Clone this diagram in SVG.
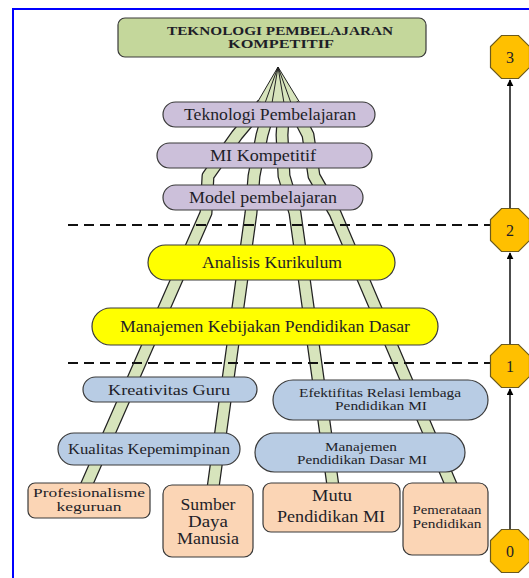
<svg xmlns="http://www.w3.org/2000/svg" width="529" height="578" viewBox="0 0 529 578">
<defs>
<marker id="arr" viewBox="0 0 10 10" refX="9" refY="5" markerWidth="7" markerHeight="7" markerUnits="userSpaceOnUse" orient="auto">
<path d="M0,0 L10,5 L0,10 Z" fill="#000"/>
</marker>
</defs>
<style>
text{font-family:"Liberation Serif","Times New Roman",serif;fill:#1e1e28;text-anchor:middle}
.t16{font-size:16px}
.t15{font-size:15px}
.t13{font-size:13px}
.t12{font-size:12px}
.ttl{font-size:12px;font-weight:bold}
.purple{fill:#ccc0da;stroke:#3a3a3a;stroke-width:1.2}
.yellow{fill:#ffff00;stroke:#3a3a3a;stroke-width:1.2}
.blue{fill:#b8cce4;stroke:#3a3a3a;stroke-width:1.2}
.orange{fill:#fbd5b5;stroke:#3a3a3a;stroke-width:1.2}
.green{fill:#c4d79b;stroke:#3a3a3a;stroke-width:1.2}
.oct{fill:#ffc000;stroke:#6b5a1e;stroke-width:1.2}
.sout{fill:none;stroke:#222;stroke-width:13;stroke-linejoin:round}
.sin{fill:none;stroke:#d7e4bc;stroke-width:10.5;stroke-linejoin:round}
.dash{stroke:#111;stroke-width:2;stroke-dasharray:10,6}
.arrow{stroke:#111;stroke-width:1.5;marker-end:url(#arr)}
</style>
<rect width="529" height="578" fill="#fff"/>
<path d="M13,578 L13,9 L529,9" fill="none" stroke="#0000ff" stroke-width="2"/>

<g id="connectors">
<polygon points="278,67 257,103 300,103" fill="#d7e4bc" stroke="#222" stroke-width="1"/>
<path d="M278,67 L265,103 M278,67 L272,103 M278,67 L284,103 M278,67 L291,103" stroke="#222" stroke-width="1"/>
<path class="sout" d="M263,104 L237,135 L208,176 L206,213 L86,486"/>
<path class="sout" d="M271,104 L262,135 L254,176 L251,213 L213,488"/>
<path class="sout" d="M284,104 L282,135 L284,176 L295,213 L333,486"/>
<path class="sout" d="M292,104 L308,135 L314,176 L335,213 L452,487"/>
<path class="sin" d="M263,104 L237,135 L208,176 L206,213 L86,486"/>
<path class="sin" d="M271,104 L262,135 L254,176 L251,213 L213,488"/>
<path class="sin" d="M284,104 L282,135 L284,176 L295,213 L333,486"/>
<path class="sin" d="M292,104 L308,135 L314,176 L335,213 L452,487"/>
<line class="dash" x1="68" y1="225" x2="491" y2="225"/>
<line class="dash" x1="68" y1="363" x2="491" y2="363"/>
<line class="arrow" x1="510" y1="529" x2="510" y2="389"/>
<line class="arrow" x1="510" y1="344" x2="510" y2="253"/>
<line class="arrow" x1="510" y1="208" x2="510" y2="80"/>
</g>

<g id="title">
<rect class="green" x="118" y="18" width="308" height="39" rx="7"/>
<text class="ttl" x="280" y="35" textLength="226" lengthAdjust="spacingAndGlyphs">TEKNOLOGI PEMBELAJARAN</text>
<text class="ttl" x="281" y="48" textLength="106" lengthAdjust="spacingAndGlyphs">KOMPETITIF</text>
</g>

<g id="n-teknologi">
<rect class="purple" x="163" y="102" width="212" height="25" rx="12.5"/>
<text class="t16" x="270" y="120" textLength="172" lengthAdjust="spacingAndGlyphs">Teknologi Pembelajaran</text>
</g>
<g id="n-mi">
<rect class="purple" x="157" y="143" width="215" height="25" rx="12.5"/>
<text class="t16" x="263" y="161" textLength="106" lengthAdjust="spacingAndGlyphs">MI Kompetitif</text>
</g>
<g id="n-model">
<rect class="purple" x="163" y="185" width="200" height="25" rx="12.5"/>
<text class="t16" x="263" y="203" textLength="148" lengthAdjust="spacingAndGlyphs">Model pembelajaran</text>
</g>

<g id="n-analisis">
<rect class="yellow" x="148" y="245" width="247" height="35" rx="17.5"/>
<text class="t16" x="272" y="268" textLength="140" lengthAdjust="spacingAndGlyphs">Analisis Kurikulum</text>
</g>
<g id="n-manajemen-kebijakan">
<rect class="yellow" x="92" y="308" width="346" height="37" rx="18.5"/>
<text class="t16" x="265" y="332" textLength="290" lengthAdjust="spacingAndGlyphs">Manajemen Kebijakan Pendidikan Dasar</text>
</g>

<g id="n-kreativitas">
<rect class="blue" x="83" y="377" width="174" height="25" rx="12.5"/>
<text class="t15" x="169" y="395" textLength="122" lengthAdjust="spacingAndGlyphs">Kreativitas Guru</text>
</g>
<g id="n-kualitas">
<rect class="blue" x="58" y="433" width="182" height="32" rx="16"/>
<text class="t15" x="149" y="454" textLength="162" lengthAdjust="spacingAndGlyphs">Kualitas Kepemimpinan</text>
</g>
<g id="n-efektifitas">
<rect class="blue" x="273" y="380" width="215" height="40" rx="20"/>
<text class="t12" x="380" y="397" textLength="162" lengthAdjust="spacingAndGlyphs">Efektifitas Relasi lembaga</text>
<text class="t12" x="381" y="410" textLength="92" lengthAdjust="spacingAndGlyphs">Pendidikan MI</text>
</g>
<g id="n-manajemen-mi">
<rect class="blue" x="255" y="433" width="210" height="39" rx="19.5"/>
<text class="t12" x="361" y="451" textLength="72" lengthAdjust="spacingAndGlyphs">Manajemen</text>
<text class="t12" x="362" y="464" textLength="130" lengthAdjust="spacingAndGlyphs">Pendidikan Dasar MI</text>
</g>

<g id="n-profesionalisme">
<rect class="orange" x="28" y="483" width="122" height="35" rx="7"/>
<text class="t13" x="89" y="497" textLength="112" lengthAdjust="spacingAndGlyphs">Profesionalisme</text>
<text class="t13" x="89" y="511" textLength="65" lengthAdjust="spacingAndGlyphs">keguruan</text>
</g>
<g id="n-sumber">
<rect class="orange" x="163" y="485" width="90" height="72" rx="9"/>
<text class="t16" x="208" y="510" textLength="55" lengthAdjust="spacingAndGlyphs">Sumber</text>
<text class="t16" x="208" y="527" textLength="40" lengthAdjust="spacingAndGlyphs">Daya</text>
<text class="t16" x="208" y="544" textLength="62" lengthAdjust="spacingAndGlyphs">Manusia</text>
</g>
<g id="n-mutu">
<rect class="orange" x="263" y="483" width="137" height="49" rx="8"/>
<text class="t16" x="332" y="501" textLength="40" lengthAdjust="spacingAndGlyphs">Mutu</text>
<text class="t16" x="331" y="522" textLength="108" lengthAdjust="spacingAndGlyphs">Pendidikan MI</text>
</g>
<g id="n-pemerataan">
<rect class="orange" x="403" y="483" width="85" height="72" rx="9"/>
<text class="t13" x="447" y="514" textLength="69" lengthAdjust="spacingAndGlyphs">Pemerataan</text>
<text class="t13" x="447" y="528" textLength="69" lengthAdjust="spacingAndGlyphs">Pendidikan</text>
</g>

<g id="lvl-3">
<polygon class="oct" points="501.5,35.5 518.5,35.5 529.5,46.5 529.5,67.5 518.5,78.5 501.5,78.5 490.5,67.5 490.5,46.5"/>
<text class="t16" x="510" y="63">3</text>
</g>
<g id="lvl-2">
<polygon class="oct" points="501.5,208.5 518.5,208.5 529.5,219.5 529.5,240.5 518.5,251.5 501.5,251.5 490.5,240.5 490.5,219.5"/>
<text class="t16" x="510" y="236">2</text>
</g>
<g id="lvl-1">
<polygon class="oct" points="501.5,344.5 518.5,344.5 529.5,355.5 529.5,376.5 518.5,387.5 501.5,387.5 490.5,376.5 490.5,355.5"/>
<text class="t16" x="510" y="372">1</text>
</g>
<g id="lvl-0">
<polygon class="oct" points="501.5,529.5 518.5,529.5 529.5,540.5 529.5,561.5 518.5,572.5 501.5,572.5 490.5,561.5 490.5,540.5"/>
<text class="t16" x="510" y="557">0</text>
</g>
</svg>
